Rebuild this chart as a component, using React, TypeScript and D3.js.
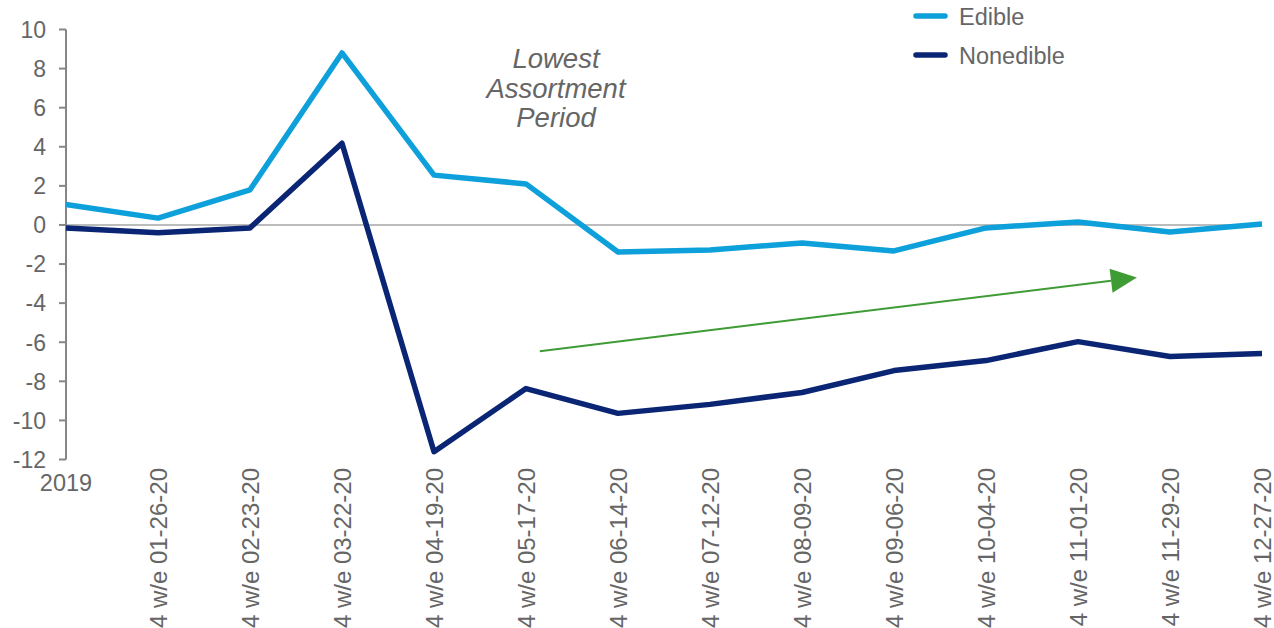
import React from "react";
import * as d3 from "d3";

const categories = [
  "2019",
  "4 w/e 01-26-20",
  "4 w/e 02-23-20",
  "4 w/e 03-22-20",
  "4 w/e 04-19-20",
  "4 w/e 05-17-20",
  "4 w/e 06-14-20",
  "4 w/e 07-12-20",
  "4 w/e 08-09-20",
  "4 w/e 09-06-20",
  "4 w/e 10-04-20",
  "4 w/e 11-01-20",
  "4 w/e 11-29-20",
  "4 w/e 12-27-20",
];
const edible = [1.05, 0.35, 1.8, 8.8, 2.55, 2.1, -1.38, -1.28, -0.92, -1.33, -0.15, 0.15, -0.36, 0.05];
const nonedible = [-0.15, -0.4, -0.15, 4.18, -11.6, -8.37, -9.64, -9.18, -8.57, -7.45, -6.94, -5.97, -6.73, -6.58];
const yTicks = [10, 8, 6, 4, 2, 0, -2, -4, -6, -8, -10, -12];
const seriesNames = ["Edible", "Nonedible"];
const annotationLines = ["Lowest", "Assortment", "Period"];
// trend arrow in data coords: [category index, value]
const arrowStart: [number, number] = [5.15, -6.46];
const arrowEnd: [number, number] = [11.64, -2.69];

const W = 1274;
const H = 628;
const EDIBLE = "#0EA0DA";
const NONEDIBLE = "#0A2573";
const TEXT = "#666666";
const FONT = "Liberation Sans, Arial, sans-serif";

export default function App() {
  const x = d3.scalePoint<number>().domain(d3.range(categories.length)).range([66, 1262]);
  const y = d3.scaleLinear().domain([-12, 10]).range([459.5, 29.5]);
  const xi = (i: number) => 66 + i * x.step();

  const line = d3
    .line<number>()
    .x((_, i) => x(i) as number)
    .y((d) => y(d));

  const ax1 = xi(arrowStart[0]);
  const ay1 = y(arrowStart[1]);
  const ax2 = xi(arrowEnd[0]);
  const ay2 = y(arrowEnd[1]);
  const ang = Math.atan2(ay2 - ay1, ax2 - ax1);
  const headLen = 26;
  const headHalf = 12;
  const bx = ax2 - headLen * Math.cos(ang);
  const by = ay2 - headLen * Math.sin(ang);
  const px = -Math.sin(ang) * headHalf;
  const py = Math.cos(ang) * headHalf;

  return (
    <svg
      width={W}
      height={H}
      style={{ position: "absolute", left: 0, top: 0, background: "#fff" }}
      fontFamily={FONT}
    >
      {/* zero line */}
      <line x1={66} x2={1262} y1={y(0)} y2={y(0)} stroke="#A6A6A6" strokeWidth={1.5} />
      {/* y axis */}
      <line x1={66} x2={66} y1={y(10)} y2={y(-12)} stroke="#868686" strokeWidth={2} />
      {yTicks.map((t) => (
        <g key={t}>
          <line x1={59} x2={66} y1={y(t)} y2={y(t)} stroke="#868686" strokeWidth={2} />
          <text x={46} y={y(t)} dy="0.36em" textAnchor="end" fontSize={23} fill={TEXT}>
            {t}
          </text>
        </g>
      ))}
      {/* x labels */}
      {categories.map((c, i) =>
        i === 0 ? (
          <text key={c} x={x(i)} y={491} textAnchor="middle" fontSize={23.5} fill={TEXT}>
            {c}
          </text>
        ) : (
          <text
            key={c}
            transform={`translate(${x(i)},468) rotate(-90)`}
            textAnchor="end"
            dy="0.36em"
            fontSize={24}
            fill={TEXT}
          >
            {c}
          </text>
        )
      )}
      {/* series */}
      <path d={line(edible) || ""} fill="none" stroke={EDIBLE} strokeWidth={5.5} strokeLinejoin="round" />
      <path d={line(nonedible) || ""} fill="none" stroke={NONEDIBLE} strokeWidth={5.5} strokeLinejoin="round" />
      {/* arrow */}
      <line x1={ax1} y1={ay1} x2={bx} y2={by} stroke="#3F9C35" strokeWidth={2} />
      <polygon
        points={`${ax2},${ay2} ${bx + px},${by + py} ${bx - px},${by - py}`}
        fill="#3F9C35"
      />
      {/* annotation */}
      {annotationLines.map((t, i) => (
        <text
          key={t}
          x={556}
          y={68 + i * 29.5}
          textAnchor="middle"
          fontSize={27.5}
          fontStyle="italic"
          fill={TEXT}
        >
          {t}
        </text>
      ))}
      {/* legend */}
      {seriesNames.map((s, i) => (
        <g key={s}>
          <line
            x1={916}
            x2={945}
            y1={16 + i * 39}
            y2={16 + i * 39}
            stroke={i === 0 ? EDIBLE : NONEDIBLE}
            strokeWidth={5.5}
            strokeLinecap="round"
          />
          <text x={959} y={17 + i * 39} dy="0.36em" fontSize={23.5} fill={TEXT}>
            {s}
          </text>
        </g>
      ))}
    </svg>
  );
}
